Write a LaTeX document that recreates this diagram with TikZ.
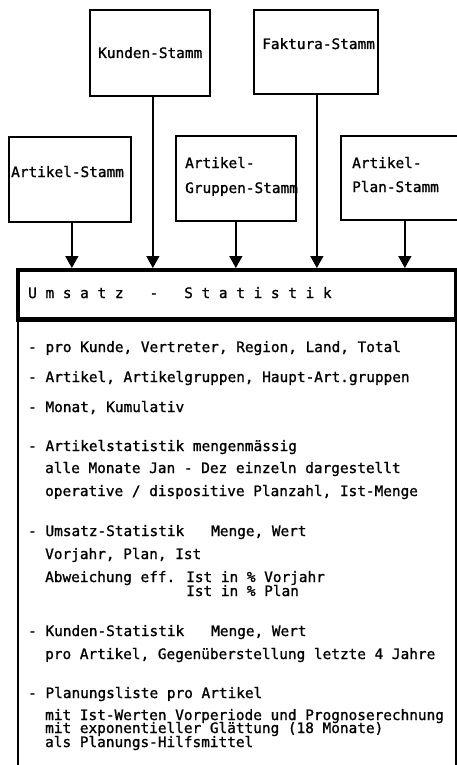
\documentclass[tikz,border=0pt]{standalone}
\usepackage{fontspec}
\setmainfont{DejaVu Sans Mono}[FakeBold=1.2]
\usetikzlibrary{arrows.meta}
\begin{document}
\frenchspacing
\begin{tikzpicture}[x=1pt,y=-1pt,
  box/.style={draw, line width=1.7pt, anchor=north west, inner sep=0pt},
  txt/.style={anchor=base west, inner sep=0pt, font=\fontsize{14.4}{17}\selectfont},
  arr/.style={line width=1.6pt, -{Triangle[width=13pt,length=12pt]}}]
\useasboundingbox (0,0) rectangle (456,765);
% source boxes
\node[box, minimum width=120pt, minimum height=86pt] (kunden) at (89,9) {};
\node[box, minimum width=124pt, minimum height=84pt] (faktura) at (253,9) {};
\node[box, minimum width=122pt, minimum height=85pt] (artikel) at (8,136) {};
\node[box, minimum width=120pt, minimum height=85pt] (gruppen) at (175,135) {};
\node[box, minimum width=125pt, minimum height=84pt] (plan) at (340,135) {};
\node[txt] (kundenT) at (98,58) {Kunden-Stamm};
\node[txt] (fakturaT) at (262,49) {Faktura-Stamm};
\node[txt] (artikelT) at (11,177) {Artikel-Stamm};
\node[txt] (gruppenT1) at (185,168) {Artikel-};
\node[txt] (gruppenT2) at (185,193) {Gruppen-Stamm};
\node[txt] (planT1) at (352,168) {Artikel-};
\node[txt] (planT2) at (352,192) {Plan-Stamm};
% body and header
\node[box, line width=1.7pt, minimum width=438pt, minimum height=500pt] (body) at (17,317) {};
\node[box, line width=4pt, minimum width=438pt, minimum height=50pt] (head) at (16,268) {};
\draw[line width=3pt] ([xshift=2pt]head.north west) -- ([xshift=2pt]head.south west);
\node[txt] (title) at (28,298) {U~m~s~a~t~z~~~-~~~S~t~a~t~i~s~t~i~k};
% arrows
\draw[arr] ([xshift=2pt]artikel.south) -- ([xshift=2pt]artikel.south |- head.north);
\draw[arr] ([xshift=3pt]kunden.south) -- ([xshift=3pt]kunden.south |- head.north);
\draw[arr] (gruppen.south) -- (gruppen.south |- head.north);
\draw[arr] ([xshift=1pt]faktura.south) -- ([xshift=1pt]faktura.south |- head.north);
\draw[arr] ([xshift=1.5pt]plan.south) -- ([xshift=1.5pt]plan.south |- head.north);
% body text
\node[txt] (l1) at (28,352) {- pro Kunde, Vertreter, Region, Land, Total};
\node[txt] (l2) at (28,382) {- Artikel, Artikelgruppen, Haupt-Art.gruppen};
\node[txt] (l3) at (28,412) {- Monat, Kumulativ};
\node[txt] (l4) at (28,451) {- Artikelstatistik mengenmässig};
\node[txt] (l5) at (45,473) {alle Monate Jan - Dez einzeln dargestellt};
\node[txt] (l6) at (45,496) {operative / dispositive Planzahl, Ist-Menge};
\node[txt] (l7) at (28,536) {- Umsatz-Statistik};
\node[txt] (l7b) at (211,536) {Menge, Wert};
\node[txt] (l8) at (45,559) {Vorjahr, Plan, Ist};
\node[txt] (l9) at (45,582) {Abweichung eff.};
\node[txt] (l9b) at (186,582) {Ist in \% Vorjahr};
\node[txt] (l10) at (186,596) {Ist in \% Plan};
\node[txt] (l11) at (28,636) {- Kunden-Statistik};
\node[txt] (l11b) at (211,636) {Menge, Wert};
\node[txt] (l12) at (45,659) {pro Artikel, Gegenüberstellung letzte 4 Jahre};
\node[txt] (l13) at (28,698) {- Planungsliste pro Artikel};
\node[txt] (l14) at (45,720) {mit Ist-Werten Vorperiode und Prognoserechnung};
\node[txt] (l15) at (45,733) {mit exponentieller Glättung (18 Monate)};
\node[txt] (l16) at (45,747) {als Planungs-Hilfsmittel};
\end{tikzpicture}
\end{document}
